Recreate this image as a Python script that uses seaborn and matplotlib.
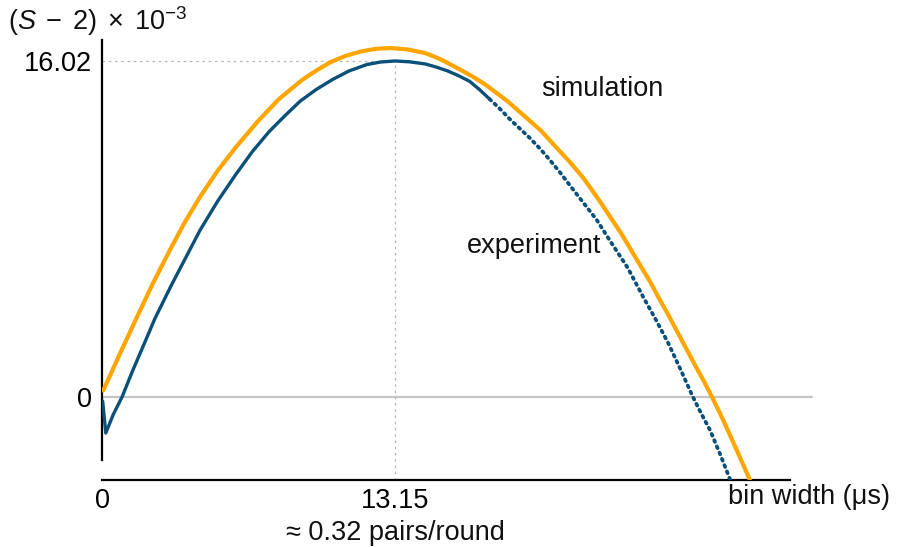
import matplotlib
matplotlib.use("Agg")
import numpy as np
import pandas as pd
import seaborn as sns
import matplotlib.pyplot as plt

# ---- data (x: bin width in us, y: (S-2) x 1e-3) ----
sim_x = [0.05, 0.8, 1.57, 2.3, 3.05, 3.7, 4.4, 5.2, 6.0, 7.0,
         7.9, 8.45, 9.0, 9.6, 10.23, 10.9, 11.6, 12.3, 12.93, 13.7,
         14.5, 15.2, 16.0, 16.6, 17.2, 17.7, 18.2, 18.9, 19.7, 20.3,
         21.0, 21.6, 22.3, 22.8, 23.3, 23.75, 24.2, 24.6, 25.0, 25.4,
         25.8, 26.2, 26.6, 27.0, 27.38, 27.8, 28.2, 28.6, 29.08]
sim_y = [0.30, 2.05, 3.81, 5.45, 7.01, 8.30, 9.54, 10.80, 11.90, 13.15,
         14.16, 14.65, 15.13, 15.55, 15.95, 16.25, 16.47, 16.60, 16.64, 16.57,
         16.40, 16.10, 15.65, 15.30, 14.90, 14.50, 14.10, 13.45, 12.70, 12.00,
         11.20, 10.45, 9.40, 8.60, 7.80, 7.00, 6.20, 5.50, 4.70, 3.95,
         3.15, 2.35, 1.55, 0.78, 0.00, -0.92, -1.85, -2.80, -3.96]

exp_x = [0.03, 0.17, 0.5, 0.9, 1.39, 1.9, 2.38, 3.1, 3.86, 4.4,
         5.2, 6.0, 6.75, 7.5, 8.2, 8.89, 9.6, 10.37, 11.1, 11.89,
         12.5, 13.15, 13.8, 14.5, 15.0, 15.5, 16.0, 16.5, 16.95, 17.4,
         17.85, 18.3, 18.75, 19.2, 19.65, 20.1, 20.6, 21.1, 21.65, 22.2,
         22.8, 23.2, 23.6, 23.95, 24.3, 24.85, 25.4, 25.95, 26.5, 26.9,
         27.3, 27.75, 28.2]
exp_y = [-0.20, -1.72, -0.85, 0.00, 1.29, 2.55, 3.75, 5.30, 6.85, 7.95,
         9.35, 10.60, 11.70, 12.65, 13.40, 14.10, 14.65, 15.15, 15.55, 15.85,
         15.97, 16.02, 15.98, 15.88, 15.73, 15.55, 15.32, 15.05, 14.65, 14.20,
         13.75, 13.25, 12.80, 12.35, 11.85, 11.30, 10.65, 9.95, 9.20, 8.45,
         7.45, 6.80, 6.15, 5.45, 4.75, 3.70, 2.60, 1.35, 0.05, -0.80,
         -1.60, -2.75, -3.96]

peak_x = 13.15
peak_y = 16.02
xtick_labels = ["0", "13.15"]
ytick_labels = ["0", "16.02"]

SIM_COLOR = "#FFA500"
EXP_COLOR = "#0B5079"

sns.set_theme(style="white")
plt.rcParams["font.family"] = ["Liberation Sans", "DejaVu Sans"]
plt.rcParams["mathtext.fontset"] = "custom"
plt.rcParams["mathtext.rm"] = "Liberation Sans"
plt.rcParams["mathtext.it"] = "Liberation Sans:italic"
FS = 19.5

fig = plt.figure(figsize=(8.97, 5.47), dpi=100)
ax = fig.add_axes([102 / 897, 67 / 547, 688 / 897, 440 / 547])
ax.set_xlim(0, 30.88)
ax.set_ylim(-3.96, 17.02)

# zero line and guide lines
ax.plot([0, 31.87], [0, 0], color="#c4c4c4", lw=1.6, clip_on=False, zorder=1)
ax.plot([0, peak_x], [peak_y, peak_y], color="#b5b5b5", lw=0.9,
        linestyle=(0, (2, 3)), zorder=1)
ax.plot([peak_x, peak_x], [-3.96, peak_y], color="#b5b5b5", lw=0.9,
        linestyle=(0, (2, 3)), zorder=1)

# experiment: continuous part and sparse (dotted) tail
exp = pd.DataFrame({"x": exp_x, "y": exp_y})
solid = exp[exp["x"] <= 17.4]
tail = exp[exp["x"] >= 17.4]
sns.lineplot(data=solid, x="x", y="y", ax=ax, color=EXP_COLOR, lw=2.4,
             sort=False, zorder=3)
sns.lineplot(data=tail, x="x", y="y", ax=ax, color=EXP_COLOR, lw=2.7,
             sort=False, zorder=3, linestyle=(0, (0.5, 1.3)),
             dash_capstyle="round")

# simulation
sim = pd.DataFrame({"x": sim_x, "y": sim_y})
sns.lineplot(data=sim, x="x", y="y", ax=ax, color=SIM_COLOR, lw=3.0,
             sort=False, zorder=4)

# axes styling
for s in ["top", "right"]:
    ax.spines[s].set_visible(False)
for s in ["left", "bottom"]:
    ax.spines[s].set_color("black")
    ax.spines[s].set_linewidth(1.6)
ax.spines["left"].set_bounds(-3.0, 17.02)

ax.set_xticks([0, peak_x])
ax.set_xticklabels(xtick_labels)
ax.set_yticks([0, peak_y])
ax.set_yticklabels(ytick_labels)
ax.tick_params(axis="both", direction="in", length=5, width=1.4,
               labelsize=FS, colors="black")
ax.tick_params(axis="x", pad=6)
ax.tick_params(axis="y", pad=7)
ax.set_xlabel("")
ax.set_ylabel("")
ax.grid(False)

# annotations
ax.text(22.44, 14.69, "simulation", fontsize=FS, ha="center", va="center",
        color="#111111")
ax.text(19.39, 7.2, "experiment", fontsize=FS, ha="center", va="center",
        color="#111111")
fig.text(728 / 897, 1 - 497 / 547, "bin width (\u03bcs)", fontsize=FS,
         ha="left", va="center", color="#111111")
fig.text(395 / 897, 1 - 533 / 547, "\u2248 0.32 pairs/round", fontsize=FS,
         ha="center", va="center", color="#111111")
fig.text(8 / 897, 1 - 21 / 547, r"$(S\;-\;2)\;\times\;10^{-3}$", fontsize=FS,
         ha="left", va="center", color="#111111")

fig.savefig("out.png", dpi=100)
